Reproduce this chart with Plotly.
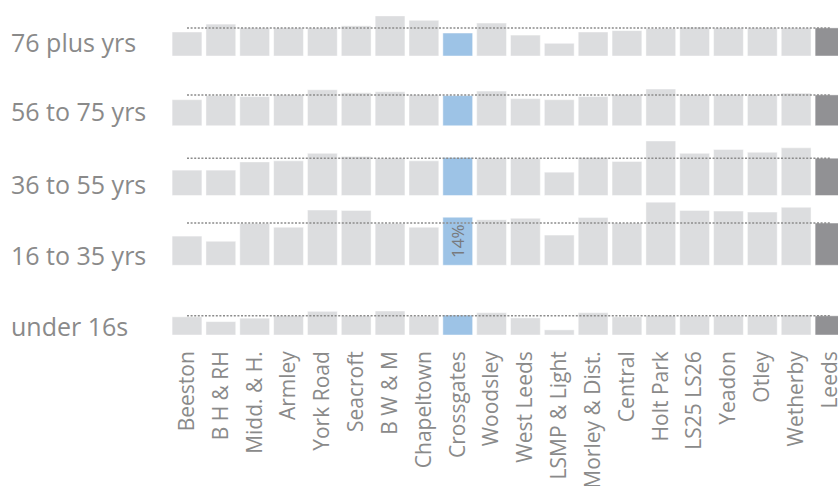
import plotly.graph_objects as go

# ---------------- data ----------------
AREAS = ["Beeston", "B H & RH", "Midd. & H.", "Armley", "York Road", "Seacroft",
         "B W & M", "Chapeltown", "Crossgates", "Woodsley", "West Leeds",
         "LSMP & Light", "Morley & Dist.", "Central", "Holt Park", "LS25 LS26",
         "Yeadon", "Otley", "Wetherby", "Leeds"]

AGE_GROUPS = ["under 16s", "16 to 35 yrs", "36 to 55 yrs", "56 to 75 yrs", "76 plus yrs"]

UNDER_16 = [5.3, 3.9, 4.9, 5.6, 6.9, 5.6, 7.0, 5.5, 5.8, 6.5,
            5.0, 1.5, 6.5, 5.3, 5.6, 5.5, 5.5, 5.5, 5.8, 5.6]
AGE_16_35 = [8.5, 7.0, 12.2, 11.1, 16.1, 16.0, 12.2, 11.1, 14.0, 13.3,
             13.7, 8.8, 13.9, 12.3, 18.4, 16.0, 15.8, 15.5, 16.9, 12.3]
AGE_36_55 = [7.4, 7.4, 9.8, 10.1, 12.3, 11.4, 10.9, 10.1, 11.1, 10.9,
             10.8, 6.8, 11.1, 9.9, 15.9, 12.3, 13.4, 12.6, 13.9, 10.9]
AGE_56_75 = [7.6, 8.8, 8.5, 9.0, 10.5, 9.6, 9.9, 9.0, 8.8, 10.1,
             7.9, 7.6, 8.5, 9.0, 10.7, 9.0, 9.0, 9.0, 9.5, 9.0]
AGE_76_PLUS = [7.0, 9.3, 8.2, 8.2, 8.2, 8.8, 11.7, 10.4, 6.7, 9.6,
               6.1, 3.7, 7.0, 7.4, 8.0, 8.4, 8.2, 8.2, 8.2, 8.2]

SERIES = [UNDER_16, AGE_16_35, AGE_36_55, AGE_56_75, AGE_76_PLUS]

HIGHLIGHT_AREA = "Crossgates"
TOTAL_AREA = "Leeds"
LABELLED = ("16 to 35 yrs", "Crossgates")

# ---------------- styling / layout ----------------
W, H = 838, 486
M_L, M_R, M_T, M_B = 160, 0, 0, 151
PLOT_H = H - M_T - M_B
PLOT_W = W - M_L - M_R
PX_PER_UNIT = 48 / 14.0
ROW_SPACING = 69.75 / PX_PER_UNIT
Y_MAX = PLOT_H / PX_PER_UNIT
LABEL_LIFT_PX = [9, 10, 12, 15, 14]

GREY = "rgb(220,221,223)"
BLUE = "rgb(157,195,230)"
DARK = "rgb(145,145,148)"
TEXT = "rgb(138,138,138)"
FONT = "Open Sans"

fig = go.Figure()

for r, (grp, vals) in enumerate(zip(AGE_GROUPS, SERIES)):
    base = r * ROW_SPACING
    colors = [BLUE if a == HIGHLIGHT_AREA else DARK if a == TOTAL_AREA else GREY for a in AREAS]
    texts = [f"{v:.0f}%" if (grp, a) == LABELLED else "" for a, v in zip(AREAS, vals)]
    fig.add_trace(go.Bar(
        x=AREAS, y=vals, base=base, width=0.88,
        marker=dict(color=colors, line=dict(color="rgba(255,255,255,0.45)", width=1)),
        text=texts, textposition="inside", textangle=-90, insidetextanchor="middle",
        insidetextfont=dict(family=FONT, size=17, color="rgb(120,122,125)"),
        constraintext="none",
        hoverinfo="skip",
    ))
    leeds = vals[AREAS.index(TOTAL_AREA)]
    fig.add_trace(go.Scatter(
        x=[AREAS[0], AREAS[-1]], y=[base + leeds, base + leeds],
        mode="lines", line=dict(color="rgb(140,140,140)", width=1.5, dash="2px,1.6px"),
        hoverinfo="skip",
    ))
    fig.add_annotation(
        xref="paper", yref="y", x=(9 - M_L) / PLOT_W, xanchor="left",
        y=base + LABEL_LIFT_PX[r] / PX_PER_UNIT, yanchor="middle",
        text=grp, showarrow=False,
        font=dict(family=FONT, size=25, color=TEXT),
    )

x_pitch = 33.84
fig.update_layout(
    width=W, height=H,
    margin=dict(l=M_L, r=M_R, t=M_T, b=M_B, pad=0),
    barmode="overlay", showlegend=False,
    plot_bgcolor="white", paper_bgcolor="white",
    xaxis=dict(type="category", range=[-27 / x_pitch, 19 + 8 / x_pitch],
               tickangle=-90, tickfont=dict(family=FONT, size=21, color=TEXT),
               showgrid=False, zeroline=False, showline=False, ticks="",
               ticklabelstandoff=11, automargin=False, fixedrange=True),
    yaxis=dict(range=[0, Y_MAX], visible=False, fixedrange=True),
)

fig.write_html("out.html",
               config={"displayModeBar": False, "staticPlot": True},
               post_script="document.body.style.margin='0';document.body.style.overflow='hidden';")
